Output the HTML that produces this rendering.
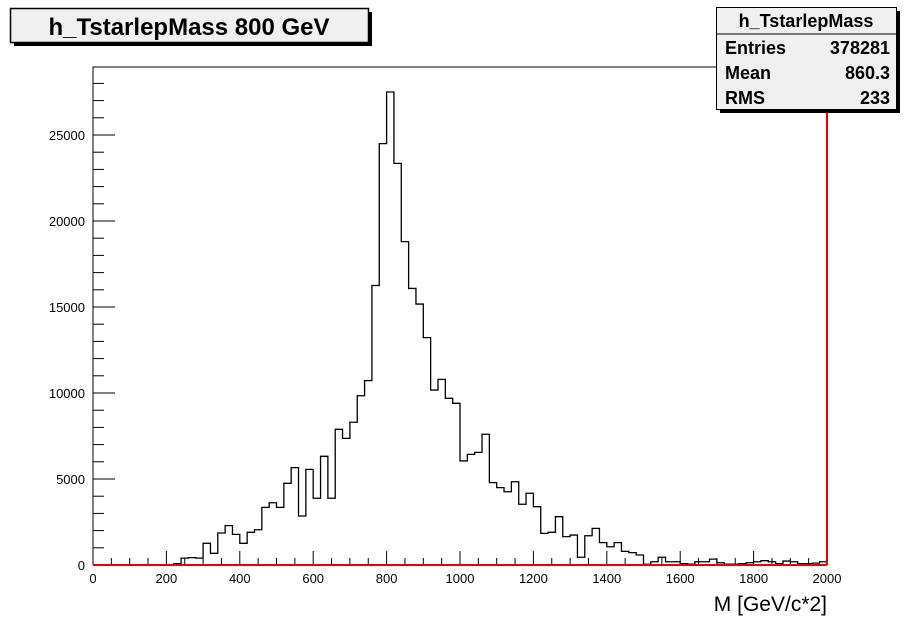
<!DOCTYPE html>
<html><head><meta charset="utf-8"><style>
body{margin:0;background:#fff;font-family:"Liberation Sans",Arial,sans-serif;}
svg{display:block}
</style></head><body>
<svg id="c" width="909" height="622" viewBox="0 0 909 622">
<rect x="0" y="0" width="909" height="622" fill="#fff"/>
<g>
<rect x="14" y="12" width="358" height="34" fill="#000"/>
<rect x="10.5" y="8.5" width="358" height="34" fill="#f0f0f0" stroke="#000" stroke-width="1.5"/>
<text x="189" y="35" text-anchor="middle" font-size="24" font-weight="bold">h_TstarlepMass 800 GeV</text>
</g>
<g id="plot"></g>
<g>
<rect x="720" y="11" width="180" height="102" fill="#000"/>
<rect x="716.5" y="7.5" width="180" height="102" fill="#f0f0f0" stroke="#000"/>
<line x1="716.5" y1="34" x2="896.5" y2="34" stroke="#000"/>
<text x="806" y="27" text-anchor="middle" font-size="18" font-weight="bold">h_TstarlepMass</text>
<text x="725" y="54" font-size="18" font-weight="bold">Entries</text>
<text x="890" y="54" text-anchor="end" font-size="18" font-weight="bold">378281</text>
<text x="725" y="79" font-size="18" font-weight="bold">Mean</text>
<text x="890" y="79" text-anchor="end" font-size="18" font-weight="bold">860.3</text>
<text x="725" y="104" font-size="18" font-weight="bold">RMS</text>
<text x="890" y="104" text-anchor="end" font-size="18" font-weight="bold">233</text>
</g>
<text x="827" y="611" text-anchor="end" font-size="21">M [GeV/c*2]</text>
</svg>
<script>
const counts=[0,0,0,0,0,0,0,0,0,0,20,80,400,430,400,1260,680,1860,2290,1780,
1260,1900,2050,3350,3620,3350,4750,5660,2850,5560,3880,6320,3880,7890,7360,8300,9840,10720,16250,24500,
27500,23350,18800,16080,15170,13220,10170,10790,9690,9400,6050,6430,6550,7600,4790,4500,4260,4840,3530,4170,
3390,1840,1900,2810,1650,1740,450,1700,2130,1300,1060,1300,790,720,580,40,190,450,190,190,
80,50,190,190,340,130,50,50,80,130,190,250,190,80,230,190,80,80,110,190];
const xTicks=[0,200,400,600,800,1000,1200,1400,1600,1800,2000];
const yTicks=[0,5000,10000,15000,20000,25000];
const binWidth=20;
const X0=93,X1=827,Y0=565,Y1=67;
const xs=v=>X0+(v/2000)*(X1-X0);
const ys=v=>Y0-v*(430/25000);
const g=document.getElementById('plot');
const NS='http://www.w3.org/2000/svg';
function mk(t,a){const e=document.createElementNS(NS,t);for(const k in a)e.setAttribute(k,a[k]);g.appendChild(e);return e;}
let fr=mk('path',{d:`M${X0},${Y0}V${Y1}H${X1}`,fill:'none',stroke:'#000','stroke-width':1});


for(let v=0;v<=28000;v+=1000){const y=ys(v);if(y<Y1)break;const major=v%5000===0;
let t=mk('line',{x1:X0,x2:X0+(major?22:11),y1:y,y2:y,stroke:'#000'});

}
yTicks.forEach(v=>{let t=mk('text',{x:85,y:ys(v)+5,'text-anchor':'end','font-size':13});t.textContent=v;

});
for(let v=0;v<=2000;v+=50){const x=xs(v);const major=v%200===0;
let t=mk('line',{x1:x,x2:x,y1:Y0,y2:Y0-(major?14:7),stroke:'#000'});

}
xTicks.forEach(v=>{let t=mk('text',{x:xs(v),y:583,'text-anchor':'middle','font-size':13});t.textContent=v;

});
let d=`M${xs(0)},${ys(0)}`;
counts.forEach((c,i)=>{d+=`V${ys(c)}H${xs((i+1)*binWidth)}`;});
d+=`V${ys(0)}`;
let h=mk('path',{d:d,fill:'none',stroke:'#000','stroke-width':1.3});


let r1=mk('line',{x1:X0,x2:X1,y1:Y0,y2:Y0,stroke:'#e00','stroke-width':2});


let r2=mk('line',{x1:X1,x2:X1,y1:Y1,y2:Y0,stroke:'#e00','stroke-width':2});


</script>
</body></html>
